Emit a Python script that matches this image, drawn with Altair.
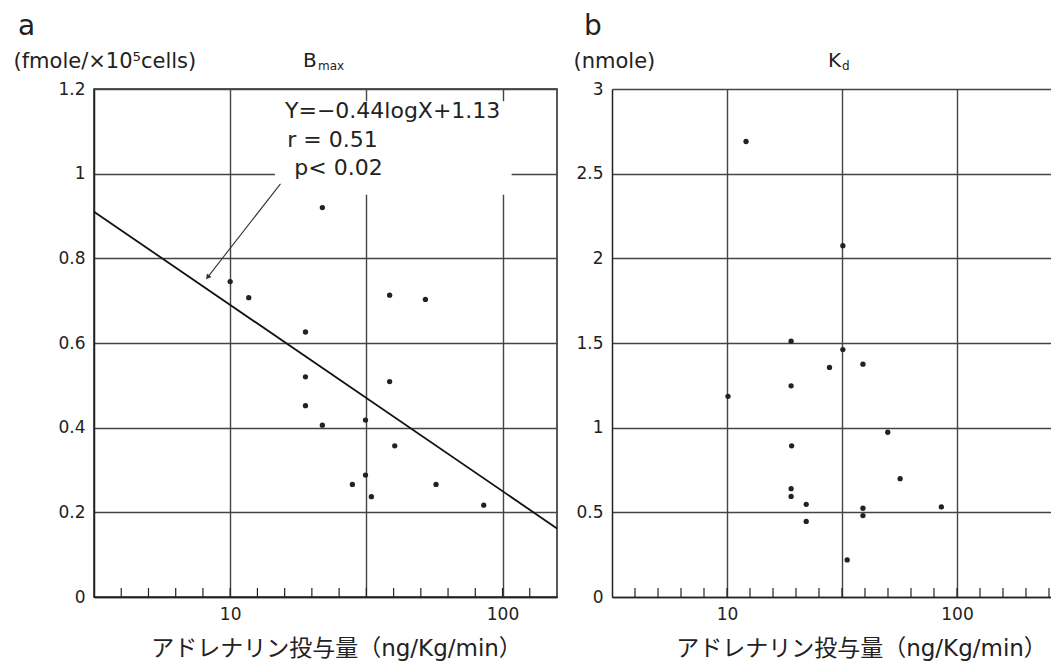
import altair as alt
import pandas as pd

# ---------------- data ----------------
# panel a : Bmax (fmole / 1e5 cells) vs adrenaline dose (ng/Kg/min)
a_dose = [21.8, 10.0, 11.7, 18.9, 38.5, 52.1, 18.9, 38.5, 18.9, 21.8,
          31.4, 40.2, 31.4, 28.1, 33.0, 57.0, 85.3]
a_bmax = [0.92, 0.745, 0.707, 0.626, 0.713, 0.703, 0.52, 0.509, 0.452, 0.406,
          0.418, 0.357, 0.288, 0.266, 0.237, 0.266, 0.217]

# panel b : Kd (nmole) vs adrenaline dose
b_dose = [12.1, 31.9, 19.0, 31.9, 27.9, 39.0, 19.0, 10.1, 50.0, 19.1,
          56.6, 19.0, 19.0, 22.1, 85.5, 39.0, 39.0, 22.1, 33.3]
b_kd = [2.69, 2.075, 1.511, 1.461, 1.356, 1.375, 1.247, 1.185, 0.973, 0.893,
        0.699, 0.640, 0.594, 0.547, 0.532, 0.524, 0.481, 0.446, 0.219]

# axes
grid_x = [10, 31.62, 100]
a_y_ticks = [0, 0.2, 0.4, 0.6, 0.8, 1.0, 1.2]
b_y_ticks = [0, 0.5, 1.0, 1.5, 2.0, 2.5, 3.0]
a_minor = [3.981, 5.012, 6.310, 7.943, 10.0, 12.59, 15.85, 19.95, 25.12, 31.62,
           39.81, 50.12, 63.10, 79.43, 100.0, 125.9]
b_minor = [3.981, 5.012, 6.310, 7.943, 10.0, 12.59, 15.85, 19.95, 25.12, 31.62,
           39.81, 50.12, 63.10, 79.43, 100.0, 125.9, 158.5, 199.5, 251.2]
a_domain = [3.162, 158.5]
b_domain = [3.162, 256.3]

# regression stated in panel a
reg_slope = -0.44
reg_intercept = 1.13
reg_x = [3.162, 158.5]

# annotation (panel a)
ann_text = ["Y=\u22120.44logX+1.13", "r = 0.51", "p< 0.02"]
ann_x = [15.9, 16.2, 17.2]
ann_y = [1.132, 1.064, 0.996]
box_x = [14.6]
box_x2 = [108.0]
box_y = [0.95]
box_y2 = [1.171]
arrow_x0 = [15.3]
arrow_y0 = [0.976]
arrow_x1 = [8.3]
arrow_y1 = [0.757]

x_title = "アドレナリン投与量\uff08ng/Kg/min\uff09"

# ---------------- style ----------------
FONT = "DejaVu Sans, Noto Sans CJK JP"
INK = "#222222"
GRID = "#444444"
W_A, W_B, H = 463, 439, 508


def xenc(field, domain, title_x):
    return alt.X(
        field, type="quantitative",
        scale=alt.Scale(type="log", domain=domain, nice=False),
        axis=alt.Axis(
            values=grid_x, grid=True, ticks=False,
            labelExpr="(datum.value == 10 || datum.value == 100) ? format(datum.value, 'd') : ''",
            labelPadding=9, labelFontSize=17,
            title=x_title, titleX=title_x, titleY=58, titleAlign="center",
            titleBaseline="alphabetic", titleFontSize=23,
        ),
    )


def yenc(field, domain, values, title, title_x):
    return alt.Y(
        field, type="quantitative",
        scale=alt.Scale(domain=domain, nice=False),
        axis=alt.Axis(
            values=values, format="~g", grid=True, ticks=False,
            labelPadding=9, labelFontSize=17,
            title=title, titleAngle=0, titleAlign="left", titleBaseline="alphabetic",
            titleX=title_x, titleY=-22, titleFontSize=21,
        ),
    )


def text_layer(txt, px, py, size, **kw):
    return alt.Chart(pd.DataFrame({"t": [txt]})).mark_text(
        font=FONT, fontSize=size, color=INK, align="left", baseline="alphabetic", **kw
    ).encode(text="t:N", x=alt.value(px), y=alt.value(py))


# ---------------- panel a ----------------
XA = lambda f: xenc(f, a_domain, 242)
YA = lambda f: yenc(f, [0, 1.2], a_y_ticks, "(fmole/\u00d710\u2075cells)", -81)

minor_a = alt.Chart(pd.DataFrame({"v": a_minor})).mark_rule(color=INK, strokeWidth=1.2).encode(
    x=XA("v"), y=alt.value(H), y2=alt.value(H - 9))

box_a = alt.Chart(pd.DataFrame({"x0": box_x, "x1": box_x2, "y0": box_y, "y1": box_y2})).mark_rect(
    color="white", opacity=1).encode(x=XA("x0"), x2="x1:Q", y=YA("y0"), y2="y1:Q")

reg_a = alt.Chart(pd.DataFrame({"x": reg_x})).transform_calculate(
    y=f"{reg_intercept} + ({reg_slope}) * log(datum.x) / LN10"
).mark_line(color="#111111", strokeWidth=1.8).encode(x=XA("x"), y=YA("y"))

arrow_df = pd.DataFrame({"x0": arrow_x0, "y0": arrow_y0, "x1": arrow_x1, "y1": arrow_y1})
arrow_a = alt.Chart(arrow_df).mark_rule(color="#333333", strokeWidth=1.1).encode(
    x=XA("x0"), y=YA("y0"), x2="x1:Q", y2="y1:Q")
head_a = alt.Chart(arrow_df).mark_point(
    shape="triangle", filled=True, size=34, angle=219, color="#333333", opacity=1
).encode(x=XA("x1"), y=YA("y1"))

pts_a = alt.Chart(pd.DataFrame({"dose": a_dose, "val": a_bmax})).mark_circle(
    size=28, color=INK, opacity=1).encode(x=XA("dose"), y=YA("val"))

ann_a = alt.Chart(pd.DataFrame({"x": ann_x, "y": ann_y, "t": ann_text})).mark_text(
    font=FONT, fontSize=22, color=INK, align="left", baseline="alphabetic"
).encode(x=XA("x"), y=YA("y"), text="t:N")

panel_a = alt.layer(
    minor_a, box_a, reg_a, arrow_a, head_a, pts_a, ann_a,
    text_layer("a", -76, -54, 28),
    text_layer("B", 209, -22, 20),
    text_layer("max", 224, -19, 12),
).properties(width=W_A, height=H, view=alt.ViewBackground(stroke=INK, strokeWidth=1.5))

# ---------------- panel b ----------------
XB = lambda f: xenc(f, b_domain, 249)
YB = lambda f: yenc(f, [0, 3], b_y_ticks, "(nmole)", -39)

minor_b = alt.Chart(pd.DataFrame({"v": b_minor})).mark_rule(color=INK, strokeWidth=1.2).encode(
    x=XB("v"), y=alt.value(H), y2=alt.value(H - 9))

pts_b = alt.Chart(pd.DataFrame({"dose": b_dose, "val": b_kd})).mark_circle(
    size=28, color=INK, opacity=1).encode(x=XB("dose"), y=YB("val"))

panel_b = alt.layer(
    minor_b, pts_b,
    text_layer("b", -28, -54, 28),
    text_layer("K", 216, -22, 20),
    text_layer("d", 230, -19, 12),
).properties(width=W_B, height=H, view=alt.ViewBackground(stroke="transparent", strokeWidth=0))

chart = alt.hconcat(panel_a, panel_b, spacing=55, bounds="flush").properties(
    padding={"left": 4, "top": 4, "right": 0, "bottom": 0}
).configure_view(stroke="transparent").configure_axis(
    labelFont=FONT, titleFont=FONT, labelColor=INK, titleColor=INK,
    gridColor=GRID, gridWidth=1.4, domainColor=INK, domainWidth=1.5,
    titleFontWeight="normal",
)

chart.save("out.html", embed_options={"renderer": "svg", "actions": False})
